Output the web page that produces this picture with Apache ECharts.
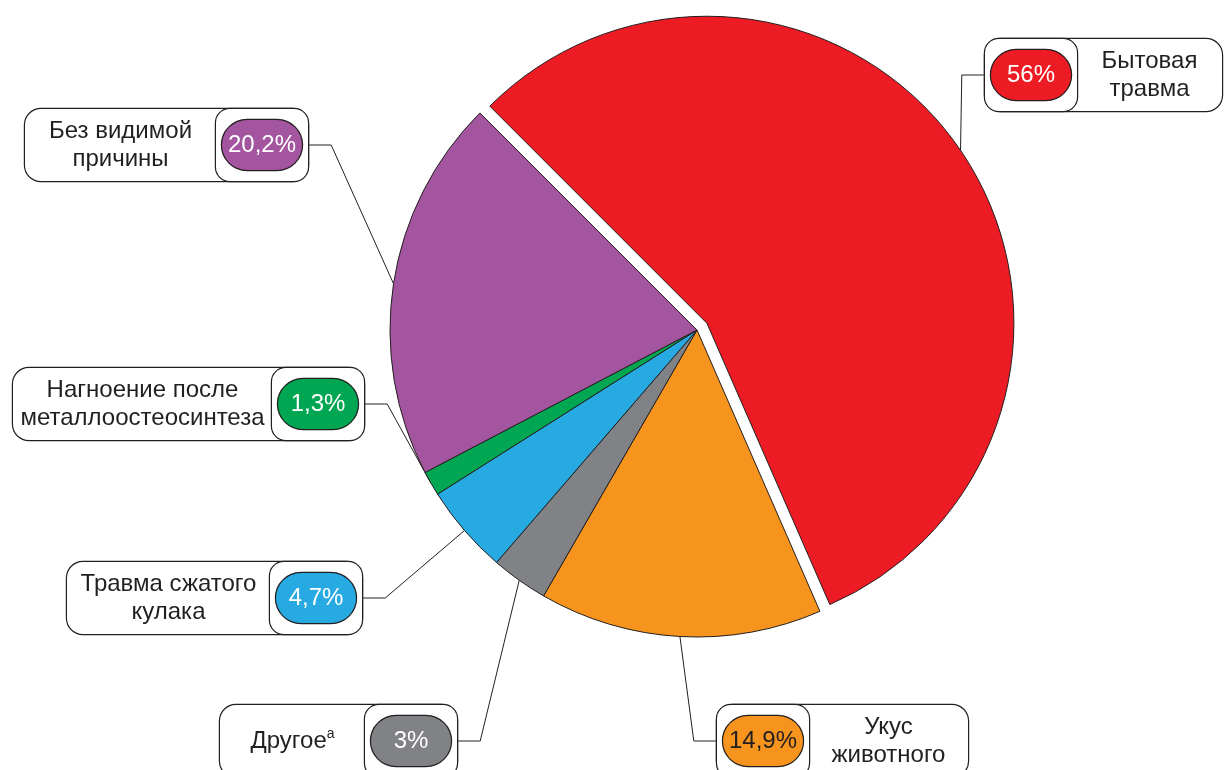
<!DOCTYPE html>
<html>
<head>
<meta charset="utf-8">
<script src="https://cdn.jsdelivr.net/npm/echarts@6/dist/echarts.min.js"></script>
<style>
  html, body { margin: 0; background: #fff; }
  #chart { width: 1225px; height: 770px; }
</style>
</head>
<body>
<div id="chart"></div>
<script>
// slices in clockwise order starting from the top-left edge of the red slice
const categories = ['Бытовая\nтравма', 'Укус\nживотного', 'Другое', 'Травма сжатого\nкулака', 'Нагноение после\nметаллоостеосинтеза', 'Без видимой\nпричины']
const footnotes = ['', '', 'а', '', '', '']
const percents = [56, 14.9, 3, 4.7, 1.3, 20.2]
const colors = ['#ed1c24', '#f7941d', '#808285', '#27aae1', '#00a651', '#a3559f']
const badgeText = ['#fff', '#231f20', '#fff', '#fff', '#fff', '#fff']

// label boxes: left, top, width, side of the percent badge
const boxes = [
  [985, 39, 237, 'left'],
  [717, 705, 251, 'left'],
  [220, 705, 237, 'right'],
  [67, 562, 295, 'right'],
  [13, 368, 351, 'right'],
  [25, 109, 283, 'right']
]

const INK = '#231f20'
const BADGE_W = 92
const BOX_H = 72
const LINE_H = 28
const CENTER = [697, 330]
const START = 135
const EXPLODE = 12 // pull-out of the first slice, px

const pct = (v) => String(v).replace('.', ',') + '%'
const NONE = 'rgba(0,0,0,0)'

// centre of the pulled-out slice, moved along its mid angle
const total = percents.reduce((a, b) => a + b, 0)
const midRad = (START - percents[0] / total * 180) * Math.PI / 180
const explodedCenter = [CENTER[0] + EXPLODE * Math.cos(midRad), CENTER[1] - EXPLODE * Math.sin(midRad)]

const chart = echarts.init(document.getElementById('chart'))

function pieBase(center) {
  return {
    type: 'pie',
    center: center,
    radius: 307,
    startAngle: START,
    clockwise: true,
    avoidLabelOverlap: false,
    emphasis: { disabled: true },
    animation: false
  }
}

const textLabel = {
  show: true,
  position: 'outside',
  backgroundColor: '#fff',
  borderColor: INK,
  borderWidth: 1.2,
  borderRadius: 16,
  formatter: (p) => '{t|' + p.name + '}' + (footnotes[p.dataIndex] ? '{s|' + footnotes[p.dataIndex] + '}' : ''),
  rich: {
    t: { fontSize: 24, lineHeight: LINE_H, color: INK, align: 'center', fontFamily: 'Liberation Sans' },
    s: { fontSize: 14, lineHeight: 10, color: INK, align: 'center', verticalAlign: 'top', fontFamily: 'Liberation Sans' }
  }
}

const textLine = {
  show: true,
  length: 10,
  length2: 22,
  smooth: false,
  lineStyle: { color: INK, width: 1 }
}

function textLayout(params) {
  const b = boxes[params.dataIndex]
  return { x: b[0] + b[2] / 2, y: b[1] + BOX_H / 2, align: 'center', verticalAlign: 'middle' }
}

// one pie series showing only the slices picked by `keep`, with their text boxes
function slicesSeries(center, keep) {
  return Object.assign(pieBase(center), {
    label: textLabel,
    labelLine: textLine,
    labelLayout: textLayout,
    data: percents.map((v, i) => {
      const b = boxes[i]
      const lines = categories[i].split('\n').length
      const pv = (BOX_H - lines * LINE_H) / 2
      if (!keep(i)) {
        return {
          value: v,
          name: categories[i],
          itemStyle: { color: NONE, borderWidth: 0 },
          label: { show: false },
          labelLine: { show: false }
        }
      }
      return {
        value: v,
        name: categories[i],
        itemStyle: { color: colors[i], borderColor: INK, borderWidth: 1 },
        label: {
          width: b[2] - BADGE_W,
          padding: b[3] === 'left' ? [pv, 0, pv, BADGE_W] : [pv, BADGE_W, pv, 0]
        }
      }
    })
  })
}

const badgeSeries = Object.assign(pieBase(CENTER), {
  silent: true,
  z: 3,
  itemStyle: { color: NONE, borderWidth: 0 },
  label: {
    show: true,
    position: 'outside',
    backgroundColor: '#fff',
    borderColor: INK,
    borderWidth: 1.2,
    borderRadius: 14,
    padding: [11, 6],
    formatter: (p) => '{c|' + pct(percents[p.dataIndex]) + '}'
  },
  labelLine: { show: false },
  labelLayout: function (params) {
    const b = boxes[params.dataIndex]
    const x = b[3] === 'left' ? b[0] + BADGE_W / 2 : b[0] + b[2] - BADGE_W / 2
    return { x: x, y: b[1] + BOX_H / 2, align: 'center', verticalAlign: 'middle' }
  },
  data: percents.map((v, i) => ({
    value: v,
    name: categories[i],
    label: {
      rich: {
        c: {
          width: 80,
          height: 50,
          lineHeight: 50,
          align: 'center',
          fontSize: 24,
          fontFamily: 'Liberation Sans',
          color: badgeText[i],
          backgroundColor: colors[i],
          borderColor: INK,
          borderWidth: 1.2,
          borderRadius: 25
        }
      }
    }
  }))
})

chart.setOption({
  backgroundColor: '#fff',
  animation: false,
  series: [
    slicesSeries(CENTER, (i) => i !== 0),
    slicesSeries(explodedCenter, (i) => i === 0),
    badgeSeries
  ]
})
</script>
</body>
</html>
